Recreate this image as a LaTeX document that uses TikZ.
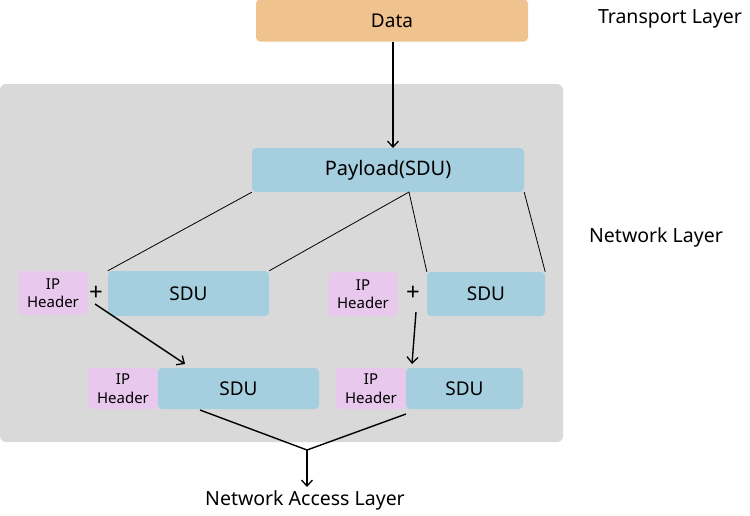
\documentclass[tikz,border=0pt]{standalone}
\usepackage{fontspec}
\setmainfont{Noto Sans}
\usetikzlibrary{arrows.meta}
\definecolor{dataorange}{HTML}{F0C38E}
\definecolor{sdublue}{HTML}{A5CFDE}
\definecolor{hdrpink}{HTML}{E8C8EC}
\definecolor{bggray}{HTML}{D9D9D9}
\begin{document}
\begin{tikzpicture}[x=1pt,y=-1pt,
  box/.style={rounded corners=4pt,inner sep=0pt,anchor=center},
  databox/.style={box,fill=dataorange,font=\fontsize{19}{21}\selectfont},
  sdubox/.style={box,fill=sdublue,font=\fontsize{19}{21}\selectfont},
  hdrbox/.style={box,fill=hdrpink,font=\fontsize{15}{18.5}\selectfont,align=center},
  lbl/.style={font=\fontsize{19.5}{21}\selectfont,inner sep=0pt},
  plus/.style={font=\fontsize{24}{26}\selectfont\addfontfeature{FakeBold=0},inner sep=0pt},
  thin line/.style={draw,line width=0.8pt},
  arr/.style={draw,line width=1.4pt,-{Straight Barb[length=6pt,width=11pt,line width=1.3pt]}},
  merge/.style={draw,line width=1.4pt}]
\useasboundingbox (0,0) rectangle (750,515);
\fill[bggray,rounded corners=6pt] (0,84) rectangle (563,442);

\node[databox,minimum width=272pt,minimum height=42pt] (data) at (392,20.5) {Data};
\node[sdubox,minimum width=272pt,minimum height=44pt,font=\fontsize{20}{22}\selectfont] (payload) at (388,170) {Payload(SDU)};

\node[hdrbox,minimum width=69pt,minimum height=44pt] (h1) at (53,293) {IP\\Header};
\node[plus] (plus1) at (96,293) {+};
\node[sdubox,minimum width=161pt,minimum height=45pt] (s1) at (188.5,293.5) {SDU};
\node[hdrbox,minimum width=69pt,minimum height=44pt] (h2) at (363,294) {IP\\Header};
\node[plus] (plus2) at (413,293.5) {+};
\node[sdubox,minimum width=118pt,minimum height=44pt] (s2) at (486,294) {SDU};

\node[hdrbox,minimum width=70pt,minimum height=41pt] (h3) at (123,388.5) {IP\\Header};
\node[sdubox,minimum width=161pt,minimum height=41pt] (s3) at (238.5,388.5) {SDU};
\node[hdrbox,minimum width=70pt,minimum height=41pt] (h4) at (371,388.5) {IP\\Header};
\node[sdubox,minimum width=117pt,minimum height=41pt] (s4) at (464.5,388.5) {SDU};

\node[lbl] (transport) at (670,19) {Transport Layer};
\node[lbl] (network) at (656,237) {Network Layer};
\node[lbl] (access) at (305,500) {Network Access Layer};

\coordinate (split) at (409,192);
\coordinate (a1s) at (95,304);
\coordinate (a1e) at (185,364);
\coordinate (a2s) at (416,312);
\coordinate (a2e) at (412,364);
\coordinate (m1) at (200,410);
\coordinate (m2) at (406,414);
\coordinate (mj) at (307,450);
\coordinate (me) at (307,487);

\draw[arr] (data.south -| 393,0) -- (393,148);
\draw[thin line] (payload.south west) -- (s1.north west);
\draw[thin line] (split) -- (s1.north east);
\draw[thin line] (split) -- (s2.north west);
\draw[thin line] (payload.south east) -- (s2.north east);
\draw[arr] (a1s) -- (a1e);
\draw[arr] (a2s) -- (a2e);
\draw[merge] (m1) -- (mj) -- (m2);
\draw[arr] (mj) -- (me);
\end{tikzpicture}
\end{document}
